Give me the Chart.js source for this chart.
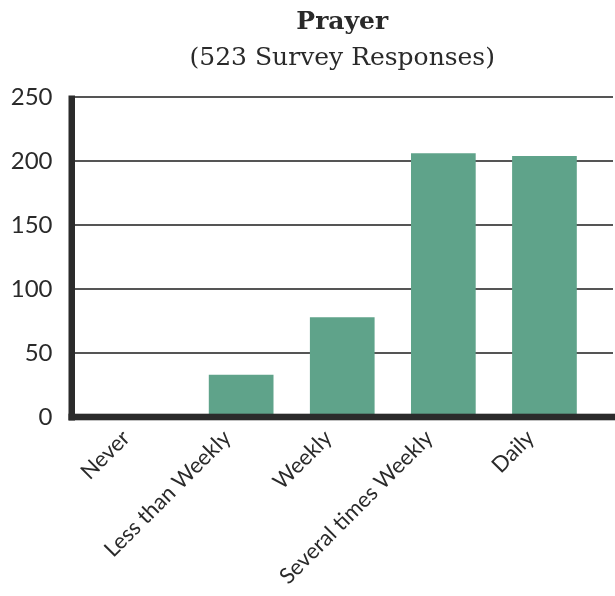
<!DOCTYPE html>
<html>
<head>
<meta charset="utf-8">
<script src="https://cdn.jsdelivr.net/npm/chart.js@4"></script>
<style>
  html, body { margin: 0; padding: 0; background: #fff; }
  #wrap { width: 615px; height: 596px; }
</style>
</head>
<body>
<div id="wrap"><canvas id="barChart"></canvas></div>
<script>
// chart data
const categories = ['Never', 'Less than Weekly', 'Weekly', 'Several times Weekly', 'Daily'];
const responses = [0, 33, 78, 206, 204];
const yTicks = [0, 50, 100, 150, 200, 250];

const barColor = '#5fa38a';
const axisColor = '#2b2b2b';

// grid lines and heavy axes drawn past the bar area, like the original
const axesPlugin = {
    id: 'axesPlugin',
    beforeDatasetsDraw(chart) {
        const ctx = chart.ctx;
        const y = chart.scales.y;
        ctx.save();
        ctx.strokeStyle = '#555';
        ctx.lineWidth = 2;
        yTicks.forEach(t => {
            if (t === 0) return;
            const py = Math.round(y.getPixelForValue(t));
            ctx.beginPath();
            ctx.moveTo(72, py);
            ctx.lineTo(chart.width - 2, py);
            ctx.stroke();
        });
        ctx.restore();
    },
    afterDatasetsDraw(chart) {
        const ctx = chart.ctx;
        const y = chart.scales.y;
        const top = y.getPixelForValue(250);
        const zero = y.getPixelForValue(0);
        ctx.save();
        ctx.fillStyle = axisColor;
        ctx.fillRect(68.5, top - 1.5, 6.5, zero - top + 5);
        ctx.fillRect(68.5, zero - 3.3, chart.width - 68.5, 6.6);
        ctx.restore();
    }
};

const content = document.getElementById('barChart').getContext('2d');
new Chart(content, {
    type: 'bar',
    data: {
        labels: categories,
        datasets: [{
            data: responses,
            backgroundColor: barColor,
            borderWidth: 0,
            barPercentage: 0.64,
            categoryPercentage: 1.0
        }]
    },
    options: {
        responsive: true,
        maintainAspectRatio: false,
        animation: false,
        layout: { padding: { left: 0, right: 20, top: 0, bottom: 0 } },
        plugins: {
            legend: { display: false },
            tooltip: { enabled: false },
            title: {
                display: true,
                text: 'Prayer',
                fullSize: false,
                color: '#2a2a2a',
                font: { family: 'DejaVu Serif', size: 25, weight: 'bold' },
                padding: { top: 7, bottom: 6 }
            },
            subtitle: {
                display: true,
                text: '(523 Survey Responses)',
                fullSize: false,
                color: '#2a2a2a',
                font: { family: 'DejaVu Serif', size: 25 },
                padding: { top: 0, bottom: 24 }
            }
        },
        scales: {
            x: {
                grid: { display: false, drawTicks: false },
                border: { display: false },
                ticks: {
                    color: '#2a2a2a',
                    font: { family: 'Lato', size: 22 },
                    minRotation: 45,
                    maxRotation: 45,
                    labelOffset: -14,
                    padding: 8
                },
                afterFit: s => { s.height = 179; }
            },
            y: {
                min: 0,
                max: 250,
                afterBuildTicks: s => { s.ticks = yTicks.map(v => ({ value: v })); },
                grid: { display: false, drawTicks: false },
                border: { display: false },
                ticks: {
                    color: '#2a2a2a',
                    font: { family: 'Lato', size: 24 },
                    padding: 37
                },
                afterFit: s => { s.width = 89.5; }
            }
        }
    },
    plugins: [axesPlugin]
});
</script>
</body>
</html>
